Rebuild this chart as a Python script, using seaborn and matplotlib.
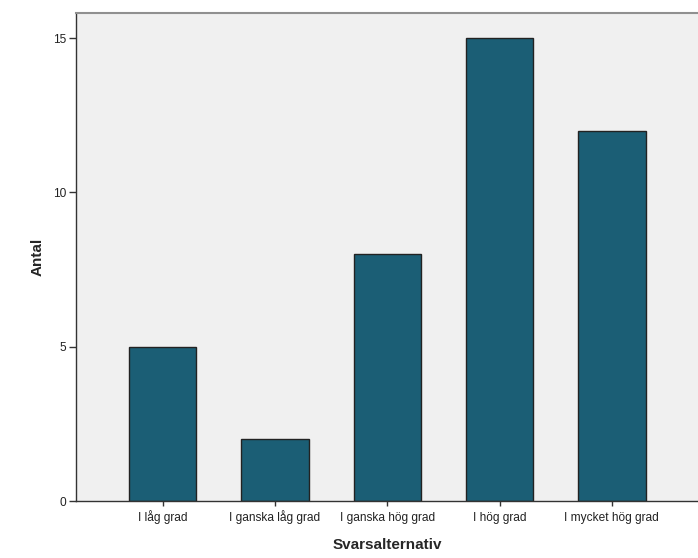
import matplotlib
matplotlib.use("Agg")
import matplotlib.pyplot as plt
import seaborn as sns
import pandas as pd

categories = ["I låg grad", "I ganska låg grad", "I ganska hög grad", "I hög grad", "I mycket hög grad"]
counts = [5, 2, 8, 15, 12]
yticks = [0, 5, 10, 15]

sns.set_style("white")
plt.rcParams['font.family'] = ['Liberation Sans', 'DejaVu Sans']

df = pd.DataFrame({"Svarsalternativ": categories, "Antal": counts})

fig = plt.figure(figsize=(6.98, 5.58), dpi=100)
ax = fig.add_axes([76/698, 1 - 501/558, 1 - 76/698 + 0.002, (501 - 13)/558])
ax.set_facecolor("#F0F0F0")
sns.barplot(data=df, x="Svarsalternativ", y="Antal", color="#1B5E75", saturation=1,
            width=0.6, edgecolor="#222222", linewidth=1, ax=ax)

ax.set_xlim(-0.773, 4.78)
ax.set_ylim(0, 15.81)
ax.set_yticks(yticks)
ax.set_yticklabels([str(t) for t in yticks])
ax.tick_params(axis="both", direction="out", width=1, color="#333333",
               labelsize=8.6, labelcolor="#222222", left=True, bottom=True)
ax.tick_params(axis="y", pad=2, length=5)
ax.tick_params(axis="x", pad=10.9, length=3.5)
for lab in ax.get_xticklabels():
    lab.set_verticalalignment("baseline")

for s in ["left", "bottom"]:
    ax.spines[s].set_color("#333333")
    ax.spines[s].set_linewidth(1)
ax.spines["top"].set_color("#909090")
ax.spines["top"].set_linewidth(1.5)
ax.spines["right"].set_visible(False)

ax.set_xlabel("Svarsalternativ", fontsize=11, fontweight="bold", labelpad=10)
ax.set_ylabel("Antal", fontsize=11, fontweight="bold", labelpad=6)

fig.savefig("out.png", dpi=100)
